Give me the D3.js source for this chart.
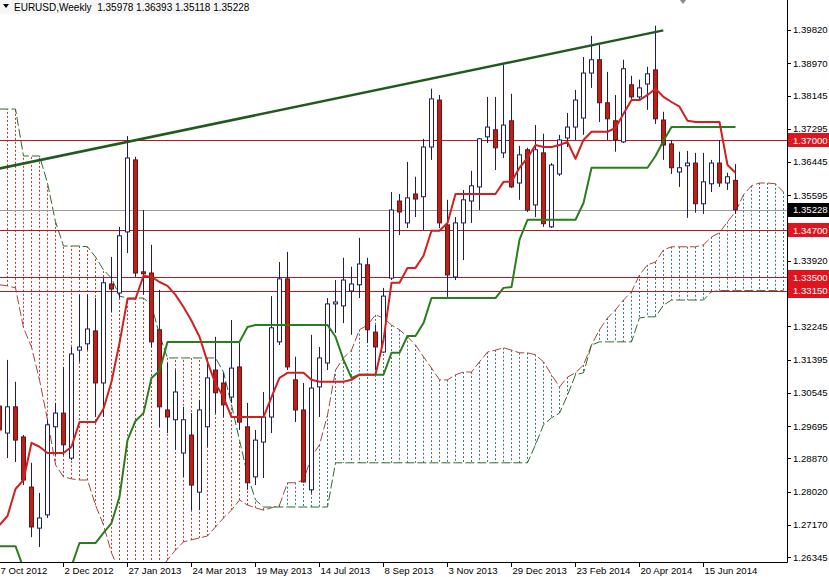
<!DOCTYPE html>
<html><head><meta charset="utf-8">
<script src="https://cdn.jsdelivr.net/npm/d3@7"></script>
<style>body{margin:0;background:#fff;} svg{display:block;}</style>
</head><body>
<svg id="c" width="829" height="577"></svg>
<script>
// ---- DATA (weekly EURUSD, index 0 = week of 7 Oct 2012) ----
const openP = [1.3021,1.2952,1.3019,1.2942,1.2814,1.2709,1.2743,1.2968,1.3003,1.2888,1.3164,1.3180,1.3213,1.3080,1.3333,1.3310,1.3466,1.3650,1.3364,1.3361,1.3216,1.3011,1.2986,1.2901,1.2947,1.2801,1.2968,1.3113,1.3080,1.3044,1.3121,1.2968,1.2840,1.2929,1.2993,1.3185,1.3346,1.3088,1.3011,1.2807,1.3070,1.3131,1.3282,1.3277,1.3315,1.3331,1.3382,1.3210,1.3159,1.3348,1.3545,1.3489,1.3563,1.3556,1.3683,1.3803,1.3484,1.3351,1.3489,1.3545,1.3581,1.3709,1.3727,1.3668,1.3750,1.3591,1.3676,1.3535,1.3668,1.3479,1.3614,1.3706,1.3734,1.3757,1.3872,1.3906,1.3796,1.3750,1.3696,1.3842,1.3811,1.3844,1.3880,1.3752,1.3691,1.3619,1.3635,1.3642,1.3538,1.3589,1.3642,1.3591,1.35978];
const highP = [1.3042,1.3139,1.3083,1.2947,1.2876,1.2799,1.2986,1.3029,1.3121,1.3172,1.3305,1.3305,1.3297,1.3348,1.3402,1.3479,1.3711,1.3658,1.3522,1.3433,1.3318,1.3131,1.3113,1.3019,1.3003,1.3037,1.3139,1.3198,1.3106,1.3241,1.3182,1.3029,1.2960,1.3057,1.3302,1.3389,1.3415,1.3147,1.3080,1.3203,1.3172,1.3297,1.3343,1.3400,1.3377,1.3451,1.3400,1.3228,1.3323,1.3568,1.3563,1.3645,1.3607,1.3704,1.3832,1.3816,1.3548,1.3504,1.3573,1.3622,1.3706,1.3811,1.3811,1.3893,1.3819,1.3686,1.3681,1.3739,1.3717,1.3642,1.3714,1.3770,1.3829,1.3913,1.3967,1.3944,1.3875,1.3816,1.3906,1.3865,1.3855,1.3888,1.3993,1.3773,1.3701,1.3671,1.3673,1.3668,1.3668,1.3650,1.3701,1.3617,1.36393];
const lowP  = [1.2934,1.2888,1.2878,1.2819,1.2686,1.2661,1.2735,1.2896,1.2896,1.2883,1.3134,1.3164,1.2993,1.2993,1.3262,1.3297,1.3412,1.3351,1.3305,1.3172,1.2968,1.2952,1.2909,1.2840,1.2755,1.2755,1.2917,1.3003,1.2993,1.3029,1.2960,1.2807,1.2819,1.2837,1.2952,1.3177,1.3113,1.2980,1.2825,1.2799,1.2993,1.3113,1.3208,1.3233,1.3203,1.3297,1.3182,1.3113,1.3157,1.3343,1.3458,1.3476,1.3504,1.3471,1.3650,1.3476,1.3300,1.3343,1.3394,1.3489,1.3522,1.3693,1.3624,1.3655,1.3578,1.3548,1.3517,1.3504,1.3479,1.3476,1.3609,1.3683,1.3701,1.3714,1.3834,1.3747,1.3701,1.3671,1.3693,1.3806,1.3801,1.3778,1.3742,1.3650,1.3614,1.3581,1.3502,1.3515,1.3512,1.3568,1.3581,1.3573,1.35118];
const closeP= [1.2960,1.3019,1.2934,1.2832,1.2712,1.2735,1.2973,1.3003,1.2922,1.3154,1.3172,1.3218,1.3080,1.3336,1.3320,1.3456,1.3655,1.3361,1.3359,1.3185,1.3019,1.2993,1.3057,1.2986,1.2819,1.3011,1.3093,1.3055,1.3024,1.3118,1.2980,1.2825,1.2934,1.2993,1.3221,1.3346,1.3121,1.3011,1.2827,1.3067,1.3144,1.3282,1.3287,1.3343,1.3333,1.3384,1.3216,1.3172,1.3302,1.3522,1.3517,1.3553,1.3550,1.3683,1.3806,1.3489,1.3356,1.3489,1.3548,1.3584,1.3704,1.3734,1.3681,1.3739,1.3581,1.3663,1.3522,1.3676,1.3487,1.3637,1.3701,1.3734,1.3803,1.3872,1.3906,1.3796,1.3755,1.3701,1.3883,1.3811,1.3834,1.3870,1.3755,1.3688,1.3630,1.3630,1.3642,1.3538,1.3594,1.3642,1.3591,1.3607,1.35228];

const tenkan = [1.2717,1.2740,1.2809,1.2832,1.2927,1.2917,1.2901,1.2901,1.2901,1.2917,1.2980,1.2980,1.2980,1.3014,1.3083,1.3182,1.3295,1.3295,1.3354,1.3351,1.3338,1.3328,1.3305,1.3274,1.3239,1.3198,1.3134,1.3078,1.3044,1.2993,1.2993,1.2993,1.2993,1.2993,1.3044,1.3093,1.3106,1.3106,1.3106,1.3088,1.3083,1.3083,1.3083,1.3083,1.3088,1.3101,1.3101,1.3101,1.3190,1.3336,1.3336,1.3374,1.3374,1.3405,1.3469,1.3469,1.3489,1.3563,1.3563,1.3563,1.3563,1.3563,1.3563,1.3594,1.3594,1.3630,1.3655,1.3688,1.3683,1.3683,1.3688,1.3696,1.3653,1.3701,1.3722,1.3722,1.3722,1.3732,1.3768,1.3803,1.3803,1.3816,1.3832,1.3811,1.3798,1.3786,1.3750,1.3747,1.3747,1.3747,1.3747,1.3637,1.3617];
const kijun = [1.2663,1.2663,1.2663,1.2607,1.2602,1.2602,1.2602,1.2602,1.2602,1.2612,1.2671,1.2671,1.2671,1.2697,1.2722,1.2789,1.2934,1.2983,1.3003,1.3093,1.3111,1.3185,1.3185,1.3185,1.3185,1.3185,1.3185,1.3185,1.3185,1.3185,1.3185,1.3223,1.3228,1.3228,1.3228,1.3228,1.3228,1.3228,1.3228,1.3228,1.3228,1.3228,1.3198,1.3139,1.3093,1.3101,1.3101,1.3101,1.3101,1.3157,1.3157,1.3200,1.3200,1.3233,1.3297,1.3297,1.3297,1.3297,1.3297,1.3297,1.3297,1.3297,1.3297,1.3323,1.3325,1.3446,1.3497,1.3497,1.3497,1.3497,1.3497,1.3497,1.3497,1.3540,1.3630,1.3630,1.3630,1.3630,1.3630,1.3630,1.3630,1.3630,1.3660,1.3699,1.3734,1.3734,1.3734,1.3734,1.3734,1.3734,1.3734,1.3734,1.3734];
// Senkou spans as displayed (already shifted forward), index 0..98
const spanA = [1.3331,1.3328,1.3323,1.3221,1.3172,1.3088,1.2986,1.2871,1.2840,1.2835,1.2832,1.2832,1.2768,1.2717,1.2646,1.2597,1.2597,1.2597,1.2597,1.2597,1.2597,1.2628,1.2653,1.2674,1.2679,1.2684,1.2689,1.2712,1.2735,1.2755,1.2781,1.2768,1.2761,1.2755,1.2761,1.2768,1.2825,1.2825,1.2832,1.2891,1.2922,1.2998,1.3113,1.3144,1.3164,1.3216,1.3228,1.3254,1.3246,1.3228,1.3216,1.3198,1.3177,1.3147,1.3118,1.3088,1.3088,1.3101,1.3108,1.3108,1.3134,1.3159,1.3164,1.3170,1.3164,1.3157,1.3157,1.3152,1.3134,1.3101,1.3070,1.3095,1.3106,1.3126,1.3177,1.3216,1.3246,1.3267,1.3292,1.3313,1.3356,1.3382,1.3389,1.3420,1.3428,1.3428,1.3428,1.3428,1.3433,1.3453,1.3464,1.3492,1.3517,1.3561,1.3584,1.3591,1.3591,1.3589,1.3568];
const spanB = [1.3780,1.3780,1.3780,1.3660,1.3660,1.3660,1.3591,1.3492,1.3430,1.3430,1.3430,1.3428,1.3402,1.3369,1.3348,1.3302,1.3297,1.3297,1.3297,1.3279,1.3203,1.3144,1.3144,1.3144,1.3144,1.3144,1.3144,1.3144,1.3108,1.3024,1.2934,1.2845,1.2781,1.2763,1.2763,1.2763,1.2763,1.2763,1.2763,1.2763,1.2763,1.2763,1.2876,1.2876,1.2876,1.2876,1.2876,1.2876,1.2876,1.2876,1.2876,1.2876,1.2876,1.2876,1.2876,1.2876,1.2876,1.2876,1.2876,1.2876,1.2876,1.2876,1.2876,1.2876,1.2876,1.2876,1.2876,1.2922,1.2973,1.2991,1.3003,1.3049,1.3101,1.3106,1.3177,1.3185,1.3185,1.3185,1.3185,1.3185,1.3246,1.3249,1.3249,1.3279,1.3292,1.3292,1.3292,1.3292,1.3292,1.3313,1.3316,1.3316,1.3316,1.3316,1.3316,1.3316,1.3316,1.3316,1.3316];

const xTickIdx = [0,8,16,24,32,40,48,56,64,72,80,88];
const xTickLabels = ["7 Oct 2012","2 Dec 2012","27 Jan 2013","24 Mar 2013","19 May 2013","14 Jul 2013","8 Sep 2013","3 Nov 2013","29 Dec 2013","23 Feb 2014","20 Apr 2014","15 Jun 2014"];
const yTicks = [1.39820,1.38970,1.38145,1.37295,1.36445,1.35595,1.33920,1.32245,1.31395,1.30545,1.29695,1.28870,1.28020,1.27170,1.26345];
const levels = [1.37000,1.34700,1.33500,1.33150];
const bidPrice = 1.35228;
const trendIdx = [0,83];
const trendPrice = [1.3628,1.3981];
const title = "EURUSD,Weekly  1.35978 1.36393 1.35118 1.35228";

// ---- CHART ----
const W=829,H=577,plotR=787,plotB=562;
const svg=d3.select('#c');
const x=d3.scaleLinear().domain([0,88]).range([-0.7,703.3]);
const y=d3.scaleLinear().domain([1.39820,1.26345]).range([30,557.3]);
const px=i=>Math.round(x(i))+0.5;
const FONT='"Liberation Sans", Arial, sans-serif';
const FS='9.6px';

svg.append('rect').attr('width',W).attr('height',H).attr('fill','#fff');
svg.append('defs').append('clipPath').attr('id','clip').append('rect')
  .attr('x',0).attr('y',0).attr('width',plotR).attr('height',plotB);
const g=svg.append('g').attr('clip-path','url(#clip)');

// cloud hatches
const cloudIdx=d3.range(spanA.length);
g.append('g').selectAll('line').data(cloudIdx).join('line')
  .attr('x1',px).attr('x2',px)
  .attr('y1',i=>y(spanA[i])).attr('y2',i=>y(spanB[i]))
  .attr('stroke',i=>spanA[i]>=spanB[i]?'#3a7590':'#d0342c')
  .attr('stroke-width',1).attr('stroke-dasharray','2,2');

const lineGen=arr=>d3.line().x(i=>px(i)).y(i=>y(arr[i]))(d3.range(arr.length));
g.append('path').attr('d',lineGen(spanA)).attr('fill','none')
  .attr('stroke','#a8463a').attr('stroke-width',1).attr('stroke-dasharray','9,3');
g.append('path').attr('d',lineGen(spanB)).attr('fill','none')
  .attr('stroke','#2e6a2e').attr('stroke-width',1).attr('stroke-dasharray','9,3');

// horizontal levels
g.append('g').selectAll('line').data(levels).join('line')
  .attr('x1',0).attr('x2',plotR)
  .attr('y1',d=>Math.round(y(d))+0.5).attr('y2',d=>Math.round(y(d))+0.5)
  .attr('stroke','#b81818').attr('stroke-width',1);
g.append('line').attr('x1',0).attr('x2',plotR)
  .attr('y1',Math.round(y(bidPrice))+0.5).attr('y2',Math.round(y(bidPrice))+0.5)
  .attr('stroke','#9a9a9a').attr('stroke-width',1);

// candles
const idx=d3.range(openP.length);
const cg=g.append('g');
cg.selectAll('line').data(idx).join('line')
  .attr('x1',px).attr('x2',px)
  .attr('y1',i=>y(highP[i])).attr('y2',i=>y(lowP[i]))
  .attr('stroke','#1c1c5a').attr('stroke-width',1);
cg.selectAll('rect').data(idx).join('rect')
  .attr('x',i=>px(i)-2).attr('width',4)
  .attr('y',i=>y(Math.max(openP[i],closeP[i])))
  .attr('height',i=>Math.max(1,Math.abs(y(openP[i])-y(closeP[i]))))
  .attr('fill',i=>closeP[i]>=openP[i]?'#ffffff':'#c01e1a')
  .attr('stroke',i=>closeP[i]>=openP[i]?'#1c1c6a':'#6a1410')
  .attr('stroke-width',1);

// trendline
g.append('line')
  .attr('x1',x(trendIdx[0])).attr('y1',y(trendPrice[0]))
  .attr('x2',x(trendIdx[1])).attr('y2',y(trendPrice[1]))
  .attr('stroke','#215a1e').attr('stroke-width',2.5);

// tenkan / kijun
g.append('path').attr('d',lineGen(kijun)).attr('fill','none')
  .attr('stroke','#2a7d1c').attr('stroke-width',2).attr('stroke-linejoin','round');
g.append('path').attr('d',lineGen(tenkan)).attr('fill','none')
  .attr('stroke','#d02020').attr('stroke-width',2).attr('stroke-linejoin','round');

// axes
svg.append('line').attr('x1',plotR+0.5).attr('x2',plotR+0.5).attr('y1',0).attr('y2',plotB+0.5).attr('stroke','#000');
svg.append('line').attr('x1',0).attr('x2',plotR+0.5).attr('y1',plotB+0.5).attr('y2',plotB+0.5).attr('stroke','#000');

const yAxis=svg.append('g');
yAxis.selectAll('line').data(yTicks).join('line')
  .attr('x1',plotR).attr('x2',plotR+4)
  .attr('y1',d=>Math.round(y(d))+0.5).attr('y2',d=>Math.round(y(d))+0.5).attr('stroke','#000');
yAxis.selectAll('text').data(yTicks).join('text')
  .attr('x',793).attr('y',d=>y(d)).attr('dy','0.35em')
  .attr('font-family',FONT).attr('font-size',FS).attr('fill','#000')
  .text(d=>d.toFixed(5));

// price labels
const tags=[...levels.map(v=>({v,c:'#e0141c'})),{v:bidPrice,c:'#000'}];
const tg=svg.append('g').selectAll('g').data(tags).join('g');
tg.append('rect').attr('x',plotR+1).attr('width',W-plotR-1)
  .attr('y',d=>Math.round(y(d.v))-7).attr('height',14).attr('fill',d=>d.c);
tg.append('text').attr('x',793).attr('y',d=>y(d.v)).attr('dy','0.35em')
  .attr('font-family',FONT).attr('font-size',FS).attr('fill','#fff')
  .text(d=>d.v.toFixed(5));

// x axis
const xAxis=svg.append('g');
xAxis.selectAll('line').data(xTickIdx).join('line')
  .attr('x1',px).attr('x2',px).attr('y1',plotB).attr('y2',plotB+5).attr('stroke','#000');
xAxis.selectAll('text').data(xTickIdx).join('text')
  .attr('x',i=>px(i)+1).attr('y',574)
  .attr('font-family',FONT).attr('font-size',FS).attr('fill','#000')
  .text((d,k)=>xTickLabels[k]);

// title
svg.append('rect').attr('x',0).attr('y',0).attr('width',240).attr('height',14).attr('fill','#f6f6f6');
svg.append('path').attr('d','M3,4 L9,4 L6,8 Z').attr('fill','#000');
svg.append('text').attr('x',14).attr('y',10.5).attr('font-family',FONT)
  .attr('font-size','10px').attr('fill','#000').style('white-space','pre').text(title);
// shift marker
svg.append('path').attr('d','M680,0 L686,0 L683,4 Z').attr('fill','#888');
</script>
</body></html>
